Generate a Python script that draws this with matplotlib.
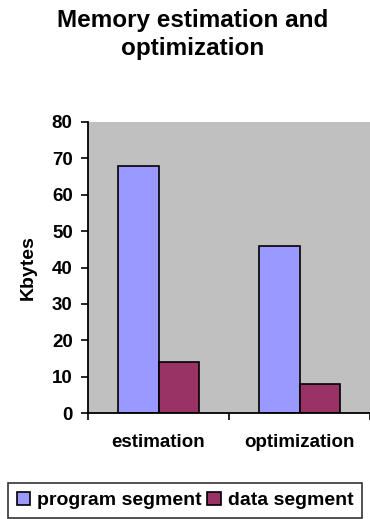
import matplotlib

matplotlib.use("Agg")
import matplotlib.pyplot as plt
import numpy as np

categories = ["estimation", "optimization"]
series = ["program segment", "data segment"]
program_kb = [68, 46]
data_kb = [14, 8]
colors = ["#9999ff", "#993366"]

plt.rcParams.update({"font.family": "Liberation Sans", "font.weight": "bold"})

fig = plt.figure(figsize=(3.70, 5.19), dpi=100)
ax = fig.add_axes([88 / 370, 1 - 413 / 519, 1 - 88 / 370, (413 - 122) / 519])
ax.set_facecolor("#c0c0c0")

x = np.arange(len(categories))
w = 0.29
ax.bar(x - w / 2, program_kb, w, color=colors[0], edgecolor="black", linewidth=1.2,
       label=series[0])
ax.bar(x + w / 2, data_kb, w, color=colors[1], edgecolor="black", linewidth=1.2,
       label=series[1])

ax.set_xlim(-0.5, 1.438)
ax.set_ylim(0, 80)
ax.set_yticks(range(0, 81, 10))
ax.tick_params(axis="y", labelsize=13.5, length=5, width=1.2, direction="out", pad=6)
for t in ax.get_yticklabels():
    t.set_fontweight("bold")

ax.set_xticks([-0.5, 0.5, 1.5])
ax.set_xticklabels([])
ax.tick_params(axis="x", which="major", length=5, width=1.2, direction="out")
ax.set_xticks(x, minor=True)
ax.set_xticklabels(categories, minor=True, fontsize=13.5, fontweight="bold")
ax.tick_params(axis="x", which="minor", length=0, pad=15)

for s in ["top", "right"]:
    ax.spines[s].set_visible(False)
for s in ["left", "bottom"]:
    ax.spines[s].set_linewidth(1.3)

ax.set_ylabel("Kbytes", fontsize=14, fontweight="bold", labelpad=11)

fig.text(193 / 370, 1 - 9 / 519, "Memory estimation and\noptimization", fontsize=17.5,
         fontweight="bold", ha="center", va="top", linespacing=1.3)

leg = fig.legend(loc="lower left", bbox_to_anchor=(8 / 370, 1 / 519), ncol=2,
                 handlelength=0.68, handleheight=0.68, handletextpad=0.36,
                 columnspacing=0.3, borderaxespad=0, borderpad=0.45, fancybox=False,
                 frameon=True, prop={"weight": "bold", "size": 14})
leg.get_frame().set_edgecolor("black")
leg.get_frame().set_linewidth(1.2)

fig.savefig("out.png", dpi=100)
